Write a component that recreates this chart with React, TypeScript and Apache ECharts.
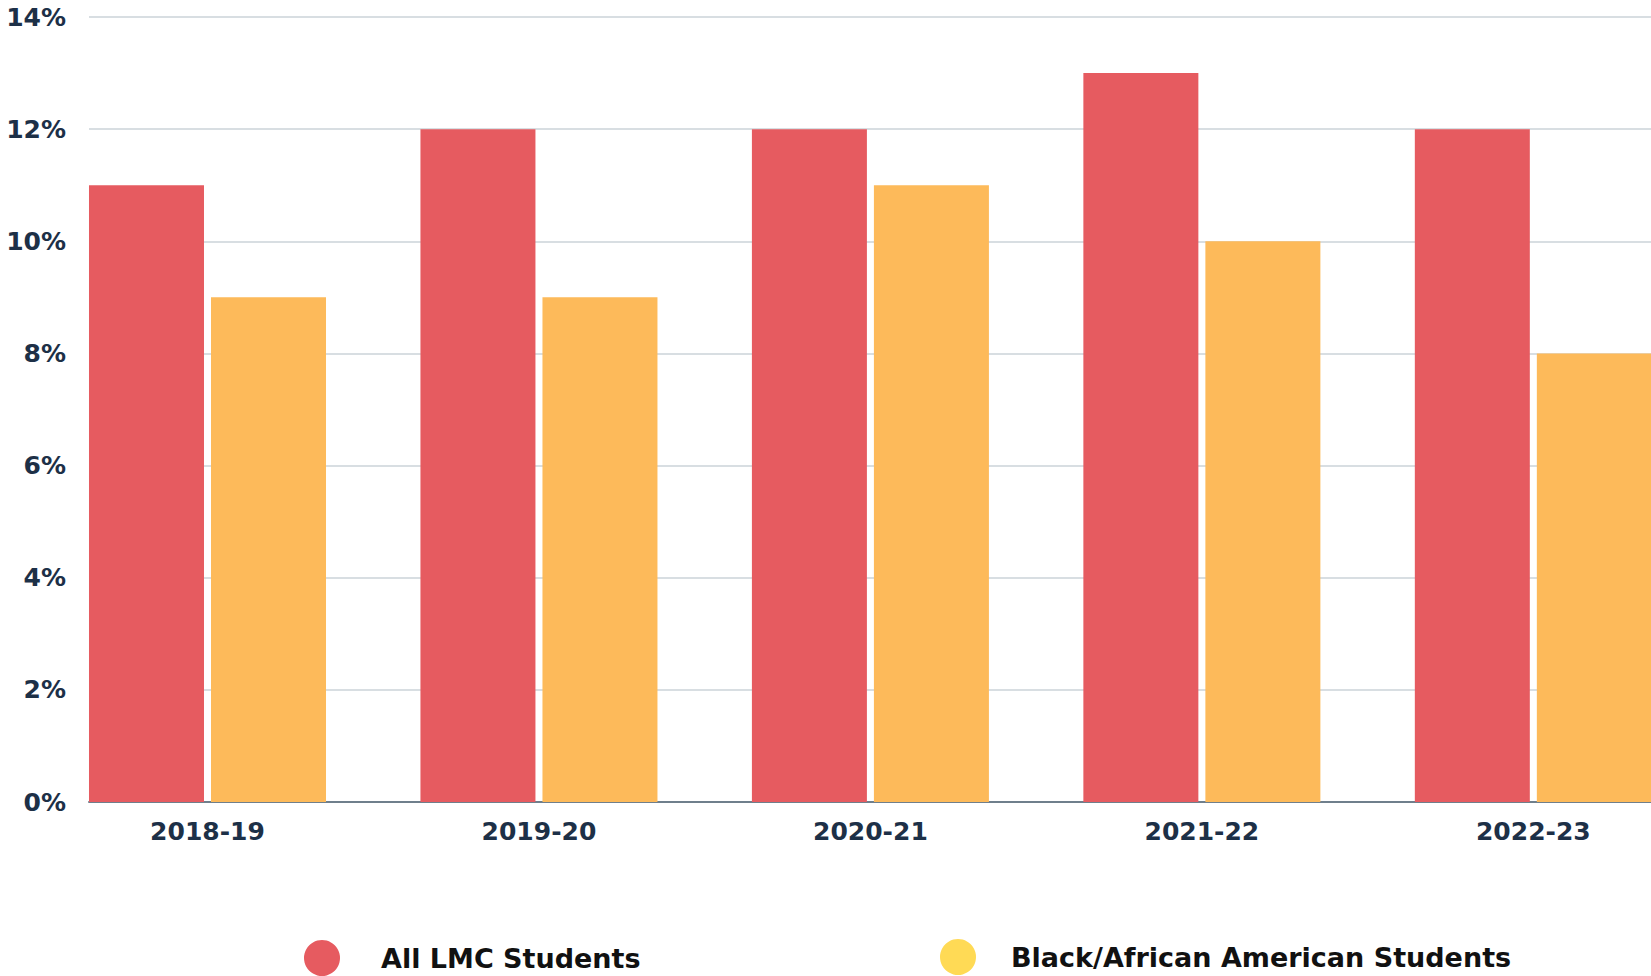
import React, { useEffect, useRef } from "react";
import * as echarts from "echarts";

const categories = ["2018-19", "2019-20", "2020-21", "2021-22", "2022-23"];
const allLmc = [11, 12, 12, 13, 12];
const blackAfrican = [9, 9, 11, 10, 8];
const seriesNames = ["All LMC Students", "Black/African American Students"];
const yTicks = [0, 2, 4, 6, 8, 10, 12, 14];

export default function App() {
  const ref = useRef<HTMLDivElement>(null);
  useEffect(() => {
    if (!ref.current) return;
    const chart = echarts.init(ref.current, null, { renderer: "svg" });
    const labelColor = "#1d3047";
    const legendText = {
      fontFamily: "DejaVu Sans",
      fontWeight: "bold" as const,
      fontSize: 27,
      color: "#111111",
    };
    chart.setOption({
      animation: false,
      backgroundColor: "#ffffff",
      grid: { left: 89, right: 0, top: 17, bottom: 174, containLabel: false },
      xAxis: {
        type: "value",
        min: -0.3575,
        max: 4.355,
        axisLine: { show: true, onZero: false, lineStyle: { color: "#6f7f8c", width: 2 } },
        axisTick: { show: false },
        splitLine: { show: false },
        axisLabel: {
          customValues: categories.map((_, i) => i),
          formatter: (v: number) => categories[Math.round(v)] ?? "",
          color: labelColor,
          fontFamily: "DejaVu Sans",
          fontWeight: "bold",
          fontSize: 25,
          margin: 17,
        },
      },
      yAxis: {
        type: "value",
        min: yTicks[0],
        max: yTicks[yTicks.length - 1],
        interval: 2,
        axisLine: { show: false },
        axisTick: { show: false },
        splitLine: { show: true, lineStyle: { color: "#cbd3d8", width: 1.5 } },
        axisLabel: {
          formatter: (v: number) => `${v}%`,
          color: labelColor,
          fontFamily: "DejaVu Sans",
          fontWeight: "bold",
          fontSize: 25,
          margin: 23,
        },
      },
      legend: [
        {
          left: 304,
          top: 940,
          padding: 0,
          icon: "circle",
          itemWidth: 36,
          itemHeight: 36,
          data: [{ name: seriesNames[0], itemStyle: { color: "#e65b60" } }],
          textStyle: { ...legendText, padding: [0, 0, 0, 36] },
        },
        {
          left: 940,
          top: 939,
          padding: 0,
          icon: "circle",
          itemWidth: 36,
          itemHeight: 36,
          data: [{ name: seriesNames[1], itemStyle: { color: "#ffda55" } }],
          textStyle: { ...legendText, padding: [0, 0, 0, 30] },
        },
      ],
      series: [
        {
          name: seriesNames[0],
          type: "bar",
          data: allLmc.map((v, i) => [i, v]),
          barWidth: 115,
          barGap: "6.1%",
          itemStyle: { color: "#e65b60" },
        },
        {
          name: seriesNames[1],
          type: "bar",
          data: blackAfrican.map((v, i) => [i, v]),
          barWidth: 115,
          barGap: "6.1%",
          itemStyle: { color: "#fdba5a" },
        },
      ],
    });
    return () => chart.dispose();
  }, []);
  return (
    <div
      ref={ref}
      style={{ position: "fixed", left: 0, top: 0, width: 1651, height: 976 }}
    />
  );
}
